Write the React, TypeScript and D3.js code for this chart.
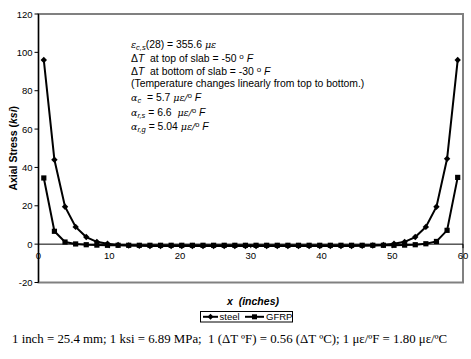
import React from "react";
import * as d3 from "d3";

const xPositions = [0.75, 2.25, 3.75, 5.25, 6.75, 8.25, 9.75, 11.25, 12.75, 14.25, 15.75, 17.25, 18.75, 20.25, 21.75, 23.25, 24.75, 26.25, 27.75, 29.25, 30.75, 32.25, 33.75, 35.25, 36.75, 38.25, 39.75, 41.25, 42.75, 44.25, 45.75, 47.25, 48.75, 50.25, 51.75, 53.25, 54.75, 56.25, 57.75, 59.25];
const steelVals = [96, 44, 19.5, 9, 3.7, 1.2, 0.2, -0.4, -0.7, -0.9, -1, -1, -1, -1, -1, -1, -1, -1, -1, -1, -1, -1, -1, -1, -1, -1, -1, -1, -1, -1, -0.9, -0.7, -0.4, 0.2, 1.2, 3.7, 9, 19.5, 44.5, 96];
const gfrpVals = [34.5, 6.7, 1.1, 0.1, -0.3, -0.5, -0.6, -0.6, -0.6, -0.6, -0.6, -0.6, -0.6, -0.6, -0.6, -0.6, -0.6, -0.6, -0.6, -0.6, -0.6, -0.6, -0.6, -0.6, -0.6, -0.6, -0.6, -0.6, -0.6, -0.6, -0.6, -0.6, -0.6, -0.6, -0.5, -0.3, 0.2, 1.4, 7.2, 34.8];
const yTicks = [-20, 0, 20, 40, 60, 80, 100, 120];
const xTicks = [0, 10, 20, 30, 40, 50, 60];
const seriesNames = ["steel", "GFRP"];

const W = 471, H = 359;
const L = 38.5, R = 463, T = 14, B = 282.5;

export default function App() {
  const x = d3.scaleLinear().domain([0, 60]).range([L, R]);
  const y = d3.scaleLinear().domain([-20, 120]).range([B, T]);
  const line = d3.line<[number, number]>().x(d => x(d[0])).y(d => y(d[1]));
  const steelPts: [number, number][] = xPositions.map((xv, i) => [xv, steelVals[i]]);
  const gfrpPts: [number, number][] = xPositions.map((xv, i) => [xv, gfrpVals[i]]);
  const font = "'Liberation Sans', Arial, sans-serif";
  const serifI = "'DejaVu Serif', serif";
  const diamond = (cx: number, cy: number, r = 3) => `M${cx},${cy - r}L${cx + r},${cy}L${cx},${cy + r}L${cx - r},${cy}Z`;
  const tx = 131;
  const lineYs = [48, 61.5, 74.5, 87, 101, 116, 130];
  const pre = { whiteSpace: "pre" as const };
  return (
    <svg width={W} height={H} style={{ position: "absolute", left: 0, top: 0 }} fontFamily={font}>
      <rect width={W} height={H} fill="#fff" />
      <rect x={L} y={T} width={R - L} height={B - T} fill="none" stroke="#808080" strokeWidth={2} />
      <line x1={L} x2={L} y1={T} y2={B} stroke="#000" strokeWidth={1.2} />
      {yTicks.map(t => (
        <g key={t}>
          <line x1={L - 4} x2={L} y1={y(t)} y2={y(t)} stroke="#000" />
          <text x={L - 6} y={y(t) + 3.5} fontSize={9.5} textAnchor="end">{t}</text>
        </g>
      ))}
      <line x1={L} x2={R} y1={y(0)} y2={y(0)} stroke="#000" strokeWidth={1} />
      {xTicks.map(t => (
        <g key={t}>
          <line x1={x(t)} x2={x(t)} y1={y(0)} y2={y(0) + 4} stroke="#000" />
          <text x={x(t)} y={y(0) + 15} fontSize={9.5} textAnchor="middle">{t}</text>
        </g>
      ))}
      <path d={line(steelPts) || ""} fill="none" stroke="#000" strokeWidth={2} />
      <path d={line(gfrpPts) || ""} fill="none" stroke="#000" strokeWidth={2} />
      {steelPts.map((p, i) => <path key={"s" + i} d={diamond(x(p[0]), y(p[1]), 3.2)} fill="#000" />)}
      {gfrpPts.map((p, i) => <rect key={"g" + i} x={x(p[0]) - 2.6} y={y(p[1]) - 2.6} width={5.2} height={5.2} fill="#000" />)}
      <g fontSize={10.4} style={pre}>
        <text x={tx} y={lineYs[0]} style={pre}>
          <tspan fontStyle="italic" fontFamily={serifI} fontSize={9.5}>ε</tspan>
          <tspan fontStyle="italic" fontSize={7.5} dy={2}>c,s</tspan>
          <tspan dy={-2}>(28) = 355.6 </tspan>
          <tspan fontStyle="italic" fontFamily={serifI} fontSize={9.5}>με</tspan>
        </text>
        <text x={tx} y={lineYs[1]} style={pre}>
          <tspan>Δ</tspan><tspan fontStyle="italic">T</tspan><tspan>{"  at top of slab = -50 "}</tspan>
          <tspan fontSize={8} dy={-3}>o</tspan><tspan dy={3} fontStyle="italic">{" F"}</tspan>
        </text>
        <text x={tx} y={lineYs[2]} style={pre}>
          <tspan>Δ</tspan><tspan fontStyle="italic">T</tspan><tspan>{"  at bottom of slab = -30 "}</tspan>
          <tspan fontSize={8} dy={-3}>o</tspan><tspan dy={3} fontStyle="italic">{" F"}</tspan>
        </text>
        <text x={tx} y={lineYs[3]}>(Temperature changes linearly from top to bottom.)</text>
        <text x={tx} y={lineYs[4]} style={pre}>
          <tspan fontStyle="italic" fontFamily={serifI} fontSize={9.5}>α</tspan>
          <tspan fontStyle="italic" fontSize={7.5} dy={2}>c</tspan>
          <tspan dy={-2}>{"  = 5.7 "}</tspan>
          <tspan fontStyle="italic" fontFamily={serifI} fontSize={9.5}>με/</tspan>
          <tspan fontSize={7.5} dy={-3}>o</tspan><tspan dy={3} fontStyle="italic">{" F"}</tspan>
        </text>
        <text x={tx} y={lineYs[5]} style={pre}>
          <tspan fontStyle="italic" fontFamily={serifI} fontSize={9.5}>α</tspan>
          <tspan fontStyle="italic" fontSize={7.5} dy={2}>r,s</tspan>
          <tspan dy={-2}>{" = 6.6  "}</tspan>
          <tspan fontStyle="italic" fontFamily={serifI} fontSize={9.5}>με/</tspan>
          <tspan fontSize={7.5} dy={-3}>o</tspan><tspan dy={3} fontStyle="italic">{" F"}</tspan>
        </text>
        <text x={tx} y={lineYs[6]} style={pre}>
          <tspan fontStyle="italic" fontFamily={serifI} fontSize={9.5}>α</tspan>
          <tspan fontStyle="italic" fontSize={7.5} dy={2}>r,g</tspan>
          <tspan dy={-2}>{" = 5.04 "}</tspan>
          <tspan fontStyle="italic" fontFamily={serifI} fontSize={9.5}>με/</tspan>
          <tspan fontSize={7.5} dy={-3}>o</tspan><tspan dy={3} fontStyle="italic">{" F"}</tspan>
        </text>
      </g>
      <text x={253} y={305} fontSize={10.5} fontWeight="bold" fontStyle="italic" textAnchor="middle" style={pre}>x  (inches)</text>
      <text transform={`translate(17,${(T + B) / 2}) rotate(-90)`} fontSize={10.5} fontWeight="bold" textAnchor="middle">
        Axial Stress (<tspan fontStyle="italic">ksi</tspan>)
      </text>
      <rect x={200.5} y={311.5} width={92} height={10.5} fill="#fff" stroke="#000" strokeWidth={1} />
      <line x1={203} x2={218} y1={316.8} y2={316.8} stroke="#000" strokeWidth={2} />
      <path d={diamond(210.5, 316.8, 3)} fill="#000" />
      <text x={219.5} y={320.3} fontSize={9.5}>{seriesNames[0]}</text>
      <line x1={245} x2={264} y1={316.8} y2={316.8} stroke="#000" strokeWidth={2} />
      <rect x={252} y={314.3} width={5} height={5} fill="#000" />
      <text x={266} y={320.3} fontSize={9.5}>{seriesNames[1]}</text>
      <text x={12} y={342.5} fontSize={12.85} fontFamily="'Liberation Serif', 'Times New Roman', serif" style={pre}>
        1 inch = 25.4 mm; 1 ksi = 6.89 MPa;  1 (ΔT ºF) = 0.56 (ΔT ºC); 1 με/ºF = 1.80 με/ºC
      </text>
    </svg>
  );
}
